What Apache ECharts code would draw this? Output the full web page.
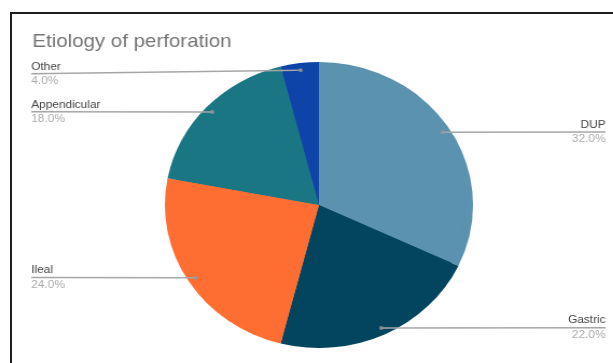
<!DOCTYPE html>
<html>
<head>
<meta charset="utf-8">
<script src="https://cdn.jsdelivr.net/npm/echarts@6/dist/echarts.min.js"></script>
<style>
  html, body { margin: 0; padding: 0; background: #fff; overflow: hidden; }
  #frame { position: absolute; left: 10px; top: 12px; width: 800px; height: 600px; border: 2px solid #1e1e1e; }
  /* the source picture is stretched sideways a little, so the chart is too */
  #main { position: absolute; left: 0; top: 0; width: 569px; height: 363px; transform: scaleX(1.0775); transform-origin: 0 0; }
</style>
</head>
<body>
<div id="frame"></div>
<div id="main"></div>
<script>
var titleText = 'Etiology of perforation';
var categories = ['DUP', 'Gastric', 'Ileal', 'Appendicular', 'Other'];
var values = [32, 22, 24, 18, 4];
var colors = ['#5a92af', '#03445f', '#fe6d31', '#1b7684', '#0e44a7'];

var FONT = '"Liberation Sans", Arial, sans-serif';
var R = 143;          // pie radius
var dotPos = 0.95;    // where the leader line starts, as part of the radius
var labelTop = 61;    // labels are kept below the title

var pieData = categories.map(function (c, i) {
    return { name: c, value: values[i], itemStyle: { color: colors[i] } };
});

// mid angle of each slice, as a share of the total, for the little dots
var total = values.reduce(function (a, b) { return a + b; }, 0);
var acc = 0;
var dots = values.map(function (v) {
    var mid = (acc + v / 2) / total * 100;
    acc += v;
    return [dotPos, mid];
});

var chart = echarts.init(document.getElementById('main'));

chart.setOption({
    animation: false,
    title: {
        text: titleText,
        left: 25,
        top: 27,
        textStyle: { fontFamily: FONT, fontSize: 19, fontWeight: 'normal', color: '#757575' }
    },
    polar: { center: [296, 205], radius: R },
    angleAxis: { type: 'value', min: 0, max: 100, startAngle: 90, clockwise: true, show: false },
    radiusAxis: { type: 'value', min: 0, max: 1, show: false },
    series: [
        {
            // the coloured slices
            type: 'pie',
            z: 2,
            left: 22, right: 0, top: 0, bottom: 0,
            center: [274, 205],
            radius: R,
            startAngle: 90,
            clockwise: true,
            silent: true,
            label: { show: false },
            labelLine: { show: false },
            data: pieData
        },
        {
            // see-through copy that carries the labels and leader lines
            type: 'pie',
            z: 3,
            left: 22, right: 0, top: 0, bottom: 0,
            center: [274, 205],
            radius: R * dotPos,
            startAngle: 90,
            clockwise: true,
            silent: true,
            itemStyle: { color: 'rgba(0,0,0,0)' },
            label: {
                show: true,
                position: 'outer',
                alignTo: 'edge',
                edgeDistance: 7,
                fontFamily: FONT,
                formatter: function (p) {
                    return '{n|' + p.name + '}\n{v|' + p.value.toFixed(1) + '%}';
                },
                rich: {
                    n: { fontFamily: FONT, fontSize: 11, color: '#444', lineHeight: 14 },
                    v: { fontFamily: FONT, fontSize: 11, color: '#aaa', lineHeight: 15 }
                }
            },
            labelLine: { show: true, length: 0, length2: 10, lineStyle: { color: '#a6a6a6', width: 1.5 } },
            labelLayout: function (p) {
                var pts = p.labelLinePoints;
                if (!pts) return {};
                var r = p.labelRect;
                var shift = r.y < labelTop ? labelTop - r.y : 0;
                var isLeft = r.x + r.width / 2 < pts[0][0];
                var endX = isLeft ? r.x : r.x + r.width;
                var endY = r.y + r.height / 2 + shift;
                // run the line right under the text, to the edge
                return { dy: shift, labelLinePoints: [pts[0], pts[0], [endX, endY]] };
            },
            data: pieData
        },
        {
            type: 'scatter',
            z: 4,
            coordinateSystem: 'polar',
            symbolSize: 4,
            silent: true,
            itemStyle: { color: '#9a9a9a' },
            data: dots
        }
    ]
});
</script>
</body>
</html>
